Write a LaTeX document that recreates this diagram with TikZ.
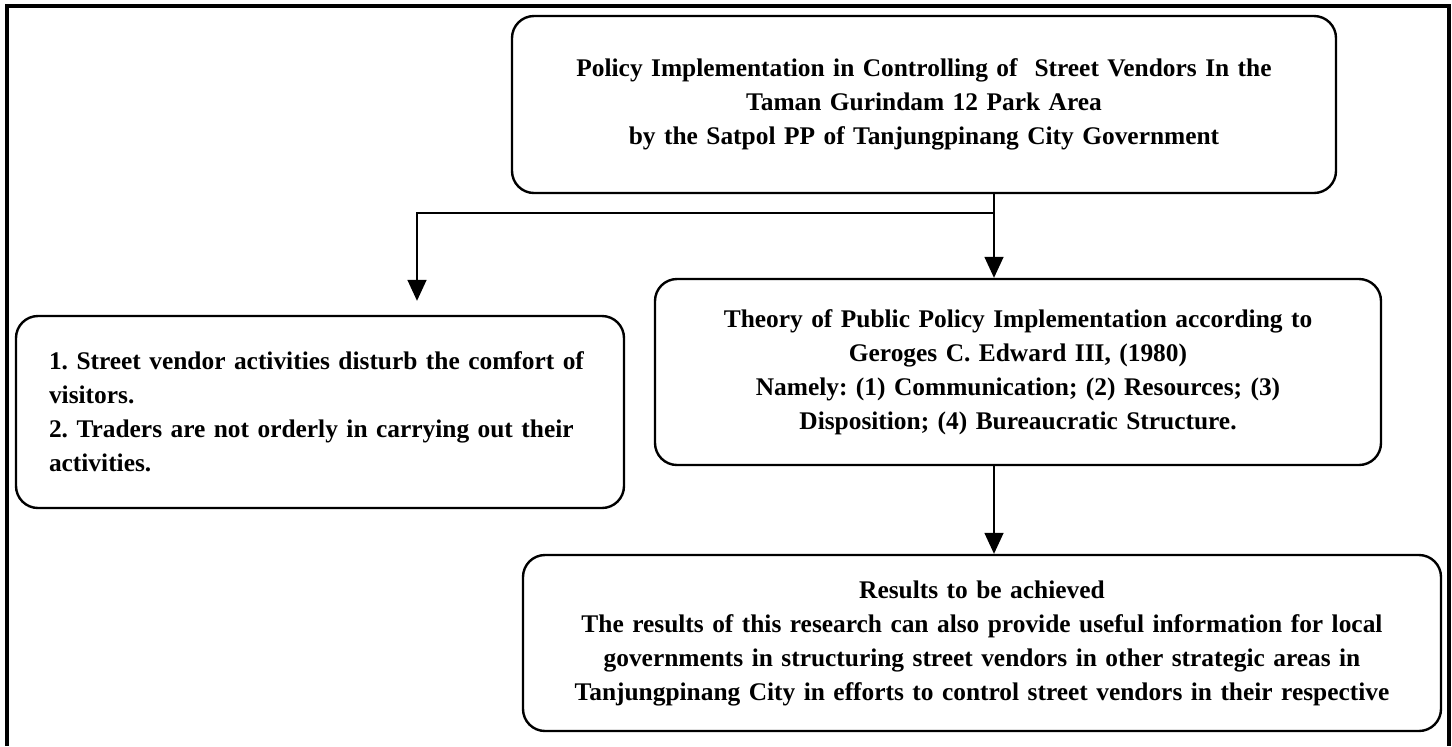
\documentclass[tikz,border=0pt]{standalone}
\usepackage{fontspec}
\setmainfont{Liberation Serif}
\frenchspacing
\usetikzlibrary{positioning,arrows.meta,calc}
\tikzstyle{frame}=[line width=1.6pt]
\tikzstyle{block}=[rectangle, draw=black, line width=1.2pt, rounded corners=11pt, align=center, inner sep=0pt, font=\fontsize{12.7}{17}\selectfont\bfseries]
\tikzstyle{myline}=[line width=0.8pt]
\tikzstyle{myarrow}=[myline, -{Triangle[width=9.5pt,length=10.5pt]}]

\begin{document}
\begin{tikzpicture}[x=0.5pt, y=-0.5pt]
        \useasboundingbox (0,0) rectangle (1452,746);
        \draw[frame] (7,746) -- (7,6) -- (1449,6) -- (1449,746);

        % Policy
        \node (policy) [block, minimum width=412pt, minimum height=88.5pt, text width=400pt] at (924,104.5) {Policy Implementation in Controlling of\ \ Street Vendors In the\\ Taman Gurindam 12 Park Area\\ by the Satpol PP of Tanjungpinang City Government};

        % Theory
        \node (theory) [block, below of=policy, node distance=133.75pt, xshift=47pt, minimum width=363pt, minimum height=93pt, text width=350pt] {Theory of Public Policy Implementation according to\\ Geroges C. Edward III, (1980)\\ Namely: (1) Communication; (2) Resources; (3)\\ Disposition; (4) Bureaucratic Structure.};

        % Problems
        \node (problems) [block, left of=theory, node distance=349pt, yshift=-20pt, minimum width=304pt, minimum height=96pt, text width=271pt, inner xsep=16.5pt, align=left] {1. Street vendor activities disturb the comfort of\\ visitors.\\ 2. Traders are not orderly in carrying out their\\ activities.};

        % Results
        \node (results) [block, below of=theory, node distance=135.5pt, xshift=-18pt, minimum width=459pt, minimum height=88pt, text width=445pt] {Results to be achieved\\ The results of this research can also provide useful information for local\\ governments in structuring street vendors in other strategic areas in\\ Tanjungpinang City in efforts to control street vendors in their respective};

        \coordinate (split) at (994,213);
        \coordinate (branch) at (417,213);

        \draw[myarrow] (policy.south -| split) -- (theory.north -| split);
        \draw[myarrow, shorten >=7pt] (split) -- (branch) -- (branch |- problems.north);
        \draw[myarrow] (theory.south -| split) -- (results.north -| split);
\end{tikzpicture}
\end{document}
